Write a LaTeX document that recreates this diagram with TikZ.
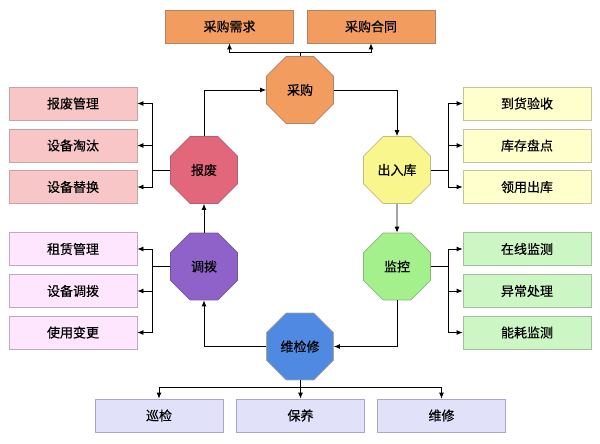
\documentclass[tikz,border=0pt]{standalone}
\usepackage{fontspec}
\setmainfont{Noto Sans CJK SC}[FakeBold=0.5]
\usetikzlibrary{shapes.geometric,arrows.meta}
\definecolor{orF}{HTML}{F29C5F}\definecolor{orD}{HTML}{B08468}
\definecolor{pkF}{HTML}{F8C6C6}\definecolor{pkD}{HTML}{C4A4A4}
\definecolor{bfF}{HTML}{E2677A}\definecolor{bfD}{HTML}{B06070}
\definecolor{ywF}{HTML}{FFFFCC}\definecolor{ywD}{HTML}{C4C4A0}
\definecolor{ckF}{HTML}{FAF68E}\definecolor{ckD}{HTML}{C0BC80}
\definecolor{grF}{HTML}{CCF7C4}\definecolor{grD}{HTML}{A4C09C}
\definecolor{jkF}{HTML}{A3F08D}\definecolor{jkD}{HTML}{88B878}
\definecolor{puF}{HTML}{FFE6FF}\definecolor{puD}{HTML}{C0A8C0}
\definecolor{dbF}{HTML}{8E62C9}\definecolor{dbD}{HTML}{7058A0}
\definecolor{blF}{HTML}{E1E1FA}\definecolor{blD}{HTML}{A8A8C4}
\definecolor{wxF}{HTML}{5089E2}\definecolor{wxD}{HTML}{B0A890}
\begin{document}
\begin{tikzpicture}[x=1pt,y=-1pt,
  every node/.style={font=\fontsize{13}{15}\selectfont},
  box/.style 2 args={draw=#2,fill=#1,line width=0.8pt,minimum width=128pt,minimum height=33pt,inner sep=0pt},
  oct/.style 2 args={regular polygon,regular polygon sides=8,minimum size=72.5pt,inner sep=0pt,draw=#2,fill=#1,line width=0.8pt},
  arr/.style={draw=black,line width=0.8pt,-{Latex[length=6pt,width=5pt]}},
  ln/.style={draw=black,line width=0.8pt}]
\useasboundingbox (0,0) rectangle (600,444);
% octagons
\node[oct={orF}{orD}] (cg) at (300,90) {采购};
\node[oct={bfF}{bfD}] (bf) at (204,170) {报废};
\node[oct={ckF}{ckD}] (crk) at (397,170) {出入库};
\node[oct={jkF}{jkD}] (jk) at (397,266.5) {监控};
\node[oct={dbF}{dbD}] (db) at (204,266.5) {调拨};
\node[oct={wxF}{wxD}] (wx) at (300,346.5) {维检修};
% top boxes
\node[box={orF}{orD}] (t1) at (229.5,26.5) {采购需求};
\node[box={orF}{orD}] (t2) at (371,26.5) {采购合同};
% left boxes
\node[box={pkF}{pkD}] (l1) at (73,103.5) {报废管理};
\node[box={pkF}{pkD}] (l2) at (73,145.5) {设备淘汰};
\node[box={pkF}{pkD}] (l3) at (73,187) {设备替换};
\node[box={puF}{puD}] (l4) at (73,249) {租赁管理};
\node[box={puF}{puD}] (l5) at (73,291) {设备调拨};
\node[box={puF}{puD}] (l6) at (73,332.5) {使用变更};
% right boxes
\node[box={ywF}{ywD}] (r1) at (527,103.5) {到货验收};
\node[box={ywF}{ywD}] (r2) at (527,145.5) {库存盘点};
\node[box={ywF}{ywD}] (r3) at (527,187) {领用出库};
\node[box={grF}{grD}] (r4) at (527,249) {在线监测};
\node[box={grF}{grD}] (r5) at (527,291) {异常处理};
\node[box={grF}{grD}] (r6) at (527,332.5) {能耗监测};
% bottom boxes
\node[box={blF}{blD}] (b1) at (159,415.5) {巡检};
\node[box={blF}{blD}] (b2) at (300.5,415.5) {保养};
\node[box={blF}{blD}] (b3) at (441.5,415.5) {维修};
% main cycle
\draw[arr] (bf.north) |- (cg.west);
\draw[arr] (cg.east) -| (crk.north);
\draw[arr] (crk.south) -- (jk.north);
\draw[arr] (jk.south) |- (wx.east);
\draw[arr] (wx.west) -| (db.south);
\draw[arr] (db.north) -- (bf.south);
% top bracket
\draw[ln] (cg.north) -- ++(0,-4) coordinate (tc);
\draw[arr] (tc) -| (t1.south);
\draw[arr] (tc) -| (t2.south);
% left brackets
\draw[ln] (bf.west) -- ++(-18,0) coordinate (lb1);
\draw[arr] (lb1) |- (l1.east);
\draw[arr] (lb1) -- (lb1 |- l2.east) -- (l2.east);
\draw[arr] (lb1) |- (l3.east);
\draw[ln] (db.west) -- ++(-18,0) coordinate (lb2);
\draw[arr] (lb2) |- (l4.east);
\draw[arr] (lb2) |- (l5.east);
\draw[arr] (lb2) |- (l6.east);
% right brackets
\draw[ln] (crk.east) -- ++(17,0) coordinate (rb1);
\draw[arr] (rb1) |- (r1.west);
\draw[arr] (rb1) |- (r2.west);
\draw[arr] (rb1) |- (r3.west);
\draw[ln] (jk.east) -- ++(17,0) coordinate (rb2);
\draw[arr] (rb2) |- (r4.west);
\draw[arr] (rb2) |- (r5.west);
\draw[arr] (rb2) |- (r6.west);
% bottom bracket
\draw[ln] (wx.south) -- ++(0,7) coordinate (bc);
\draw[arr] (bc) -| (b1.north);
\draw[arr] (bc) -| (b2.north);
\draw[arr] (bc) -| (b3.north);
\end{tikzpicture}
\end{document}
